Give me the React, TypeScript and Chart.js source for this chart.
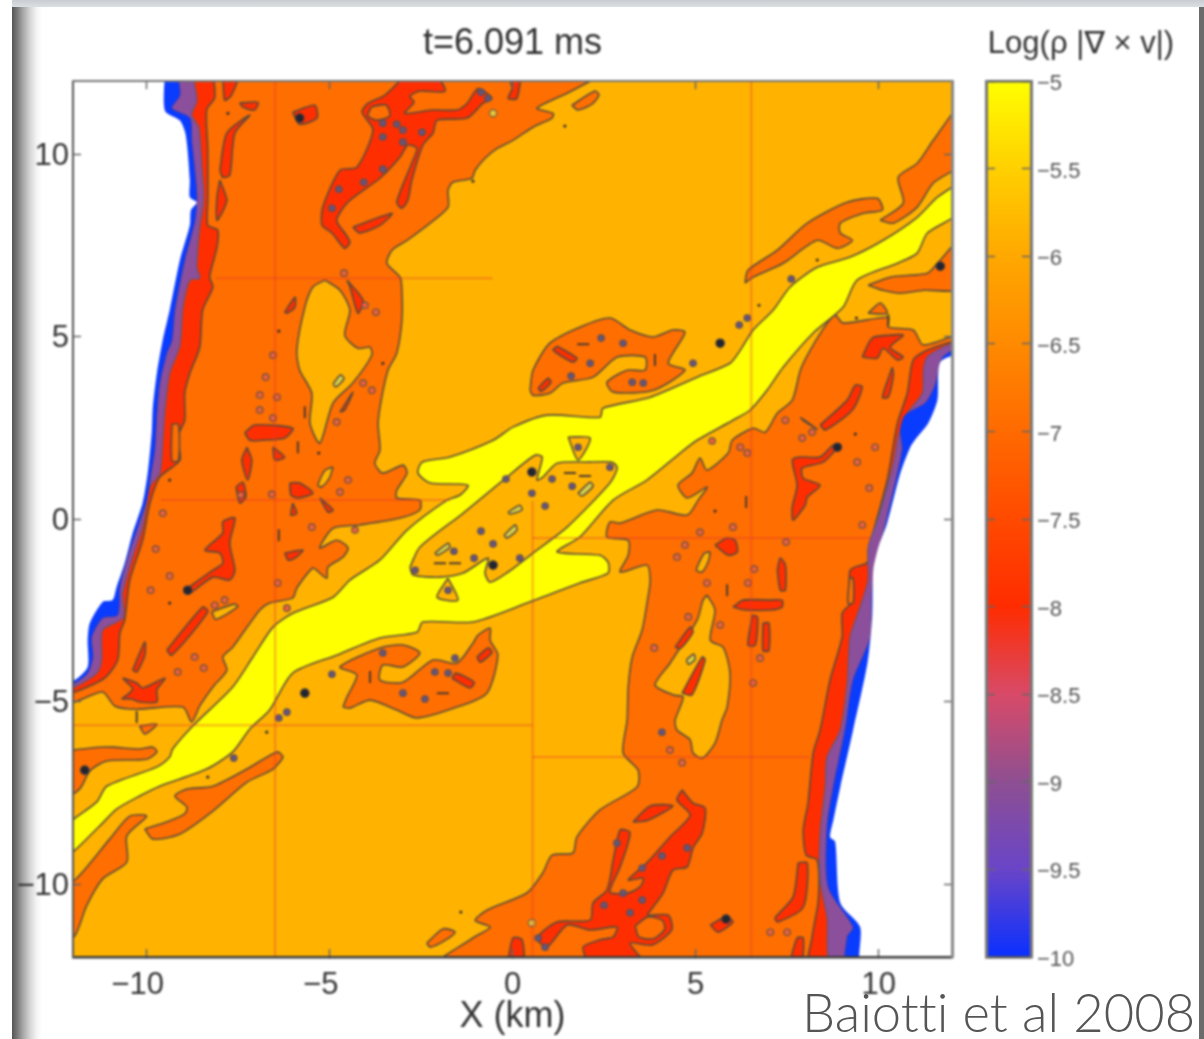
import React, { useEffect, useRef } from "react";
import { Chart, registerables } from "chart.js";

Chart.register(...registerables);

// ---------- contour regions, in km (x, y, x, y, ...) ----------
const PLOT_BOX = [-12, -12, 12, -12, 12, 12, -12, 12];

const ORANGE_BAND_LEFT = [2.12,12,1.49,11.67,0.67,11.26,1.11,11.12,1.08,10.99,0.56,10.74,0.01,10.38,-0.42,10.16,-0.75,9.89,-1.02,9.56,-1.11,9.34,-1.63,9.23,-1.76,9.01,-1.76,8.55,-2.25,8.11,-2.88,7.64,-3.29,7.37,-3.43,7.01,-3.07,6.63,-3.02,6.27,-3.02,5.45,-3.16,4.55,-3.40,4.08,-3.57,3.34,-3.67,2.63,-3.62,1.89,-3.76,1.53,-3.54,1.26,-2.99,1.48,-2.88,1.26,-3.16,0.79,-3.16,0.58,-2.53,0.52,-2.53,0.25,-3.07,0.03,-4.17,-0.16,-4.90,-0.25,-5.26,-0.79,-4.80,-0.58,-4.49,-0.79,-4.63,-1.04,-5.04,-1.32,-5.07,-1.62,-5.26,-1.48,-5.45,-1.34,-5.89,-1.89,-6.00,-2.16,-6.63,-2.30,-6.90,-2.49,-7.64,-3.51,-7.91,-3.78,-7.80,-4.14,-8.18,-4.60,-8.54,-5.12,-8.76,-5.56,-9.00,-5.15,-10.26,-5.21,-10.86,-5.12,-11.19,-4.74,-11.95,-5.01,-12.3,-5.03,-12.3,12.3,2.12,12.3];
const ORANGE_BAND_RIGHT = [12.3,5.12,11.22,4.77,10.94,5.18,10.26,5.26,10.26,5.53,9.03,5.37,8.81,5.59,8.59,5.37,8.13,4.63,7.86,4.08,7.64,3.26,7.23,2.90,6.90,2.38,6.57,2.49,6.00,2.16,5.89,1.81,5.31,1.34,5.12,1.67,4.90,1.26,4.52,0.93,4.77,0.58,5.31,0.88,5.07,0.52,4.77,0.11,3.95,0.25,2.94,-0.11,2.66,-0.08,2.58,-0.49,3.16,-0.58,3.16,-0.99,2.94,-1.45,3.67,-1.26,3.76,-1.67,3.70,-2.14,3.54,-3.04,3.27,-3.78,3.16,-4.60,3.13,-5.51,3.02,-6.41,3.43,-6.88,3.40,-7.34,2.39,-7.97,1.76,-8.71,1.65,-9.15,1.08,-9.21,0.83,-9.69,0.40,-10.24,-0.70,-10.72,-1.02,-11.00,-0.61,-11.18,-1.08,-11.48,-2.17,-12.3,12.3,-12.3];
const ORANGE_UPPER_CENTRE = [0.48,3.53,0.56,4.08,1.02,4.82,1.84,5.26,2.66,5.51,3.21,5.18,3.84,4.99,4.38,5.18,4.71,5.12,4.25,4.27,4.71,4.08,3.84,3.53,2.75,3.48,2.58,3.75,3.13,4.08,3.62,4.08,3.62,4.44,2.86,4.44,2.20,3.89,1.38,3.73,1.02,3.45,0.56,3.39];
const ORANGE_LOWER_CENTRE = [-4.63,-5.15,-4.52,-4.88,-4.25,-4.27,-4.71,-4.05,-3.62,-3.53,-2.99,-3.45,-2.53,-3.67,-2.99,-4.05,-3.54,-4.00,-3.62,-4.41,-2.99,-4.47,-2.17,-3.86,-1.52,-3.95,-1.08,-3.40,-0.94,-3.18,-0.61,-2.99,-0.61,-3.32,-0.40,-3.73,-0.70,-4.77,-1.52,-5.15,-2.61,-5.45,-3.16,-5.23,-3.89,-4.96,-4.44,-5.18];
const ORANGE_LOWER_LEFT_A = [-10.04,-8.49,-9.44,-8.30,-8.95,-8.08,-8.89,-7.89,-9.22,-7.59,-8.89,-7.40,-8.18,-7.32,-7.25,-6.85,-6.43,-6.38,-6.27,-6.52,-6.54,-6.85,-7.25,-7.21,-8.18,-8.00,-9.08,-8.63,-9.82,-8.77];
const ORANGE_LOWER_LEFT_B = [-12.3,-9.9,-11.95,-9.89,-11.0,-8.77,-10.45,-8.14,-9.99,-8.14,-10.53,-8.68,-10.53,-9.40,-11.19,-9.86,-11.63,-10.60,-11.95,-11.42,-12.3,-11.6];
const ORANGE_LOWER_LEFT_C = [-12.3,-6.36,-11.27,-6.25,-10.92,-6.25,-10.18,-6.30,-9.82,-6.25,-9.71,-6.38,-9.99,-6.58,-11.08,-6.63,-11.54,-6.90,-11.82,-7.40,-12.3,-7.65];
const ORANGE_TINY_LEFT = [-10.18,-5.67,-9.71,-5.62,-10.04,-5.89];
const ORANGE_UPPER_RIGHT_A = [6.35,6.47,6.43,6.82,7.23,7.37,8.05,8.11,9.14,8.68,9.96,8.79,10.10,8.47,9.58,8.38,8.95,8.11,8.95,7.84,9.28,7.64,8.87,7.42,8.32,7.64,7.39,7.01,6.57,6.63];
const ORANGE_UPPER_RIGHT_B = [10.04,8.19,10.67,8.66,10.53,9.37,11.05,9.75,11.49,10.38,12.3,11.4,12.3,9.8,11.49,9.21,11.05,8.55,10.40,8.11];
const ORANGE_UPPER_RIGHT_C = [9.71,6.41,10.31,6.63,11.33,6.74,11.60,7.01,12.3,7.72,12.3,6.33,11.22,6.27,10.59,6.19,10.12,6.27];
const ORANGE_TINY_RIGHT = [9.71,5.64,10.04,5.92,10.23,5.64];
const ORANGE_LENS_TOP = [1.62,11.34,2.25,11.73,2.36,11.62,2.17,11.37,1.79,11.21];
const ORANGE_LENS_BOTTOM = [-2.34,-11.62,-1.90,-11.23,-1.57,-11.32,-1.90,-11.58,-2.25,-11.73];

const LAKE_LEFT = [-5.12,6.55,-4.71,6.27,-4.44,5.73,-4.58,5.04,-4.22,4.68,-3.89,4.71,-3.84,4.49,-4.36,3.73,-4.90,3.18,-5.26,2.08,-5.53,2.63,-5.48,3.45,-5.81,4.08,-5.89,4.63,-5.67,5.81,-5.45,6.36];
const LAKE_RIGHT = [5.31,-2.08,5.53,-2.49,5.40,-3.32,5.75,-3.51,5.94,-4.22,5.86,-5.15,5.72,-5.51,5.53,-6.14,5.18,-6.55,4.93,-6.41,4.85,-6.05,4.49,-5.78,4.44,-5.51,4.66,-4.88,4.39,-4.82,3.89,-4.55,4.30,-3.95,5.04,-2.77,5.20,-2.22];
const LAKE_SMALL_A = [-4.90,1.43,-5.12,1.34,-5.31,0.93,-5.21,0.88,-5.0,1.12];
const LAKE_SMALL_B = [5.40,-0.90,5.24,-0.93,5.02,-1.40,5.18,-1.45,5.35,-1.15];
const LAKE_SMALL_C = [7.86,2.79,8.24,2.52,8.32,2.46,7.94,2.70];
const LAKE_SMALL_D = [-8.21,-2.54,-7.6,-2.33,-7.5,-2.4,-8.1,-2.75];

const RED_STRIP_LEFT = [-8.18,12.3,-8.13,11.56,-8.35,11.21,-8.32,10.11,-8.32,8.74,-8.32,8.05,-8.05,7.92,-8.07,7.45,-8.27,6.63,-8.18,6.36,-8.46,5.73,-8.54,4.71,-8.81,4.00,-8.95,3.45,-8.95,2.71,-9.14,2.25,-9.08,1.62,-9.63,1.15,-9.90,0.44,-10.10,-0.58,-10.45,-1.67,-10.59,-2.77,-10.72,-3.12,-10.78,-3.86,-11.14,-4.36,-11.95,-4.74,-12.3,-4.8,-12.3,12.3];
const RED_STRIP_RIGHT = [12.3,4.96,11.32,4.63,10.94,4.36,10.78,3.45,10.51,2.63,10.23,1.07,9.77,-0.66,9.69,-1.18,9.22,-1.40,9.22,-2.30,9.00,-2.58,9.00,-3.23,8.67,-4.41,8.40,-5.78,8.21,-6.41,8.07,-7.78,7.94,-8.52,8.02,-9.21,8.32,-9.34,8.35,-10.44,8.18,-11.45,8.13,-12.3,12.3,-12.3];
const RED_UPPER_MAIN = [-2.80,12.3,-2.20,12.3,-1.84,11.73,-2.53,11.73,-2.80,11.59,-2.69,11.42,-2.94,11.12,-2.20,11.21,-1.52,11.21,-1.24,11.39,-0.94,11.80,-0.56,11.53,-0.81,11.39,-1.24,10.99,-2.06,10.93,-2.17,10.58,-2.45,10.25,-2.75,9.29,-2.86,8.74,-3.02,8.52,-3.16,8.69,-2.75,9.75,-2.61,10.16,-2.86,10.25,-3.07,9.92,-3.62,9.34,-4.49,8.69,-4.80,8.19,-4.58,7.84,-4.44,7.59,-4.58,7.42,-4.93,7.84,-5.20,8.05,-5.18,8.55,-4.71,9.56,-4.25,9.64,-3.81,10.66,-4.11,11.15,-3.95,11.39,-3.48,11.62];
const RED_LOWER_MAIN = [4.63,-7.42,4.93,-7.78,5.26,-7.92,5.18,-8.60,4.93,-9.01,4.77,-9.53,4.38,-9.62,4.11,-10.25,3.84,-10.63,3.70,-10.85,4.25,-10.85,4.35,-11.25,3.82,-11.67,3.21,-11.62,3.67,-12.3,2.20,-12.3,1.93,-11.73,2.39,-11.53,2.75,-11.45,2.85,-11.18,2.12,-11.26,1.49,-11.12,0.94,-11.73,0.67,-11.48,1.22,-11.04,2.12,-10.99,2.20,-10.52,2.58,-10.16,2.75,-9.34,2.94,-8.52,3.21,-8.60,2.94,-9.53,2.66,-10.22,3.13,-10.25,3.48,-10.08,3.57,-9.84,3.16,-9.89,3.67,-9.42,4.30,-8.71,4.85,-8.11,4.49,-7.70];
const RED_ISLANDS = [
  [3.29,-8.30,3.76,-7.86,4.38,-7.86,3.70,-8.25],
  [7.80,-9.42,8.05,-9.42,7.94,-10.63,7.25,-11.04,7.17,-10.93,7.66,-10.36],
  [7.53,-12.3,7.77,-11.48,7.94,-11.48,7.87,-12.3],
  [-0.15,-12.3,0.01,-11.48,0.26,-11.53,0.29,-12.3],
  [8.87,1.95,8.48,1.56,7.91,1.40,7.94,1.12,8.40,0.93,8.05,0.60,7.99,0.38,7.66,-0.03,7.64,0.33,7.77,0.93,7.64,1.62,7.86,1.70,8.40,1.70,8.76,2.03],
  [8.40,2.58,9.14,3.26,9.36,3.67,9.55,3.62,9.28,2.99,8.54,2.44],
  [9.55,4.44,9.82,4.96,10.31,5.04,10.67,5.04,10.31,4.71,10.67,4.44,10.51,4.36,10.12,4.68,9.96,4.41],
  [10.37,4.16,10.10,3.34,10.26,3.34,10.40,3.95],
  [5.53,-0.71,5.86,-0.52,6.08,-0.58,6.14,-0.90,5.89,-0.99],
  [7.23,-1.40,7.31,-1.07,7.45,-1.26,7.45,-1.95,7.31,-1.95],
  [6.02,-2.41,6.30,-2.22,7.04,-2.22,7.36,-2.22,7.36,-2.41,7.04,-2.49,6.35,-2.49],
  [6.55,-2.63,6.69,-2.68,6.63,-3.45,6.43,-3.45],
  [6.84,-2.85,7.0,-2.85,7.0,-3.6,6.84,-3.6],
  [4.44,-3.51,4.85,-2.96,4.93,-3.10,4.58,-3.55],
  [4.63,-4.77,5.18,-3.78,5.26,-3.86,4.90,-4.82],
  [5.40,-11.12,5.83,-10.90,6.02,-11.04,5.61,-11.32],
  [-8.95,-1.95,-8.18,-1.40,-7.91,-1.21,-7.99,-0.93,-8.40,-0.85,-7.91,-0.38,-7.91,-0.08,-7.58,0.03,-7.72,-0.66,-7.58,-1.40,-7.72,-1.67,-8.18,-1.59,-8.81,-2.03],
  [-9.44,-3.59,-8.46,-2.41,-8.32,-2.55,-9.30,-3.73],
  [-10.37,-4.14,-10.04,-3.37,-10.04,-3.73,-10.26,-4.19],
  [-10.67,-4.93,-10.37,-4.66,-10.64,-4.36,-10.26,-4.49,-10.10,-4.63,-9.49,-4.36,-9.71,-4.68,-9.71,-5.01,-10.18,-5.01,-10.40,-4.93],
  [-7.91,12.3,-7.45,12.3,-7.67,11.62,-7.86,11.48],
  [-7.99,9.56,-7.80,10.58,-7.17,11.07,-7.58,10.58,-7.72,9.42,-7.91,9.37],
  [-7.99,9.29,-7.80,8.74,-7.94,8.38,-8.07,8.19,-8.07,8.82],
  [-7.45,11.40,-6.95,11.42,-7.04,11.21,-7.36,11.29],
  [-6.0,11.15,-5.40,11.34,-5.34,10.99,-5.81,10.82],
  [-4.36,8.00,-3.29,8.38,-3.62,8.05,-4.17,7.84],
  [-0.18,12.3,0.20,12.3,0.12,11.53,-0.12,11.53,-0.01,11.81],
  [-6.22,5.67,-5.94,6.08,-5.94,5.81,-6.16,5.64],
  [-4.52,6.55,-4.08,6.00,-4.22,5.64,-4.44,6.37],
  [-7.31,2.36,-7.04,2.58,-6.0,2.49,-6.22,2.22,-6.84,2.16,-7.17,2.16],
  [-7.25,1.97,-7.12,1.62,-7.23,1.07,-7.39,1.62],
  [-6.54,1.97,-6.22,1.70,-6.49,1.62],
  [-6.08,0.99,-5.81,0.99,-5.45,0.71,-5.86,0.58,-6.05,0.66],
  [-7.55,0.88,-7.36,1.01,-7.28,0.60,-7.45,0.44],
  [-5.26,0.58,-4.90,0.25,-5.04,0.19],
  [-6.0,0.44,-5.89,0.16,-6.05,0.11],
  [-6.22,-0.93,-5.72,-0.85,-5.94,-1.07,-6.13,-1.12],
  [-4.71,2.93,-4.36,3.48,-4.58,2.99],
  [-0.75,0.25,-0.34,0.52,-0.34,0.33,-0.67,0.11],
  [1.22,4.74,1.76,4.41,1.65,4.30,1.11,4.63],
  [0.70,3.59,0.97,3.86,1.05,3.75,0.78,3.50],
  [-0.97,-3.78,-0.67,-3.53,-0.56,-3.65,-0.88,-3.92],
  [-1.65,-4.36,-1.16,-4.63,-1.05,-4.47,-1.55,-4.22],
];
const HOLES_IN_RED = [
  [-3.85,11.3,-3.45,11.35,-3.35,11.05,-3.7,10.93,-3.95,11.05],
  [3.35,-11.15,3.7,-10.9,4.1,-11.0,4.15,-11.25,3.85,-11.5,3.45,-11.45],
  [9.2,-1.62,9.3,-1.62,9.3,-2.3,9.16,-2.3],
  [-9.3,2.6,-9.12,2.6,-9.12,1.6,-9.3,1.6],
];

const PURPLE_LEFT = [-8.76,12.3,-8.62,11.48,-8.76,11.07,-8.57,10.74,-8.48,9.64,-8.43,8.74,-8.54,8.00,-8.62,6.90,-8.54,6.60,-8.81,6.55,-9.00,5.81,-9.08,4.77,-9.36,4.00,-9.49,2.99,-9.55,2.16,-9.63,1.26,-9.90,0.88,-10.10,-0.22,-10.37,-1.04,-10.64,-2.03,-10.64,-2.71,-11.19,-3.04,-11.22,-3.86,-11.35,-4.22,-11.95,-4.60,-12.3,-4.65,-12.3,12.3];
const PURPLE_RIGHT = [12.3,4.90,11.76,4.71,11.32,4.44,11.22,4.08,11.19,3.45,10.78,2.90,10.53,2.25,10.40,1.53,9.99,0.05,9.71,-0.77,9.71,-1.67,9.49,-2.41,9.22,-3.23,9.14,-4.49,8.95,-5.78,8.59,-6.52,8.54,-7.34,8.40,-8.60,8.40,-9.89,8.59,-10.90,8.76,-12.3,12.3,-12.3];
const BLUE_LEFT = [-9.17,12.3,-9.08,11.62,-9.30,11.26,-8.81,10.99,-8.76,10.38,-8.62,8.88,-8.67,8.19,-8.95,7.10,-9.22,5.73,-9.30,4.90,-9.44,4.55,-9.63,3.73,-9.71,2.90,-9.77,1.89,-9.90,1.07,-9.99,0.52,-10.26,-0.30,-10.51,-1.04,-10.72,-1.86,-10.78,-2.63,-11.19,-2.71,-11.49,-3.23,-11.46,-3.78,-11.60,-4.22,-11.95,-4.49,-12.3,-4.55,-12.3,12.3];
const BLUE_RIGHT = [12.3,4.8,11.73,4.41,11.54,3.67,11.27,3.18,10.72,2.85,10.59,2.44,10.64,1.89,10.23,0.05,9.96,-1.04,9.82,-1.95,9.77,-3.23,9.30,-4.41,9.08,-5.78,8.76,-7.34,8.59,-8.44,8.62,-10.08,9.30,-11.18,9.14,-11.45,9.16,-12.3,12.3,-12.3];
const WHITE_LEFT = [-9.49,12.3,-9.49,11.19,-9.08,10.92,-8.92,10.52,-8.81,9.29,-8.81,8.82,-8.62,8.68,-8.78,8.47,-8.81,8.05,-9.08,7.10,-9.36,5.73,-9.55,4.90,-9.71,4.00,-9.82,3.07,-9.85,2.36,-9.96,1.26,-10.10,0.44,-10.37,-0.38,-10.59,-1.21,-10.81,-1.86,-10.92,-2.22,-11.19,-2.27,-11.54,-2.85,-11.60,-3.32,-11.60,-4.05,-11.95,-4.41,-12.3,-4.45,-12.3,12.3];
const WHITE_RIGHT = [12.3,4.58,11.68,4.30,11.60,3.26,11.35,2.63,11.05,2.25,10.86,1.97,10.59,1.26,10.23,-0.11,9.99,-0.77,9.85,-1.40,9.82,-2.68,9.69,-3.95,9.30,-5.78,8.95,-7.34,8.76,-8.25,8.67,-8.71,8.81,-8.84,8.95,-10.52,9.49,-11.18,9.55,-12.3,12.3,-12.3];

const YELLOW_BAND = [12.3,9.29,11.60,8.82,11.05,8.27,10.12,7.64,9.22,7.18,8.32,6.90,7.58,6.36,7.12,5.73,6.57,5.18,6.22,4.63,5.94,4.27,5.04,3.89,3.76,3.34,2.47,3.04,2.39,2.79,0.94,2.85,0.01,2.52,-0.53,2.16,-1.71,1.70,-2.47,1.56,-2.58,1.26,-2.25,0.99,-1.22,0.93,-1.43,0.66,-1.79,0.52,-2.88,-0.30,-3.62,-1.12,-4.44,-1.67,-4.90,-2.14,-6.00,-2.58,-6.54,-2.96,-7.09,-3.78,-7.64,-4.60,-8.73,-5.67,-9.28,-6.30,-9.36,-6.52,-9.71,-6.79,-11.08,-7.32,-11.35,-7.75,-12.3,-8.52,-12.3,-9.34,-11.27,-8.41,-10.81,-7.95,-10.18,-7.59,-9.63,-7.32,-8.35,-6.85,-7.64,-6.38,-7.17,-5.75,-6.63,-5.23,-6.00,-4.22,-4.80,-3.73,-3.62,-3.26,-2.61,-3.10,-2.45,-2.82,-1.08,-2.82,0.40,-2.30,1.84,-1.75,2.61,-1.48,2.61,-1.18,2.39,-0.99,1.22,-0.90,1.84,-0.49,2.75,0.52,3.67,1.07,4.58,1.81,5.04,2.16,6.02,2.71,6.49,2.99,6.95,3.53,7.39,4.16,8.21,5.10,9.03,5.81,9.41,6.55,10.51,7.01,11.05,7.29,11.33,7.84,12.3,8.47];
const CORE_LENS = [-2.80,-1.32,-2.53,-0.77,-1.35,0.16,-0.15,1.15,0.61,1.75,0.81,1.70,0.67,1.07,0.83,1.15,1.22,1.53,2.04,1.56,2.72,1.56,2.86,1.40,2.66,0.99,1.49,-0.22,0.56,-0.93,-0.12,-1.45,-0.61,-1.73,-0.75,-1.48,-0.67,-1.07,-1.35,-1.48,-1.98,-1.59,-2.72,-1.53];
const CORE_TRIANGLE_UP = [1.52,2.25,2.12,2.22,1.79,1.62];
const CORE_TRIANGLE_DOWN = [-1.76,-1.62,-1.49,-2.22,-2.06,-2.14];
const GREEN_LENSES = [
  [-2.12,-0.93,-1.76,-0.66,-1.71,-0.77,-2.04,-0.99],
  [1.79,0.71,2.12,1.01,2.20,0.90,1.90,0.63],
  [-0.12,0.19,0.20,0.38,0.26,0.25,-0.07,0.14],
  [-0.23,-0.44,0.07,-0.16,0.12,-0.30,-0.15,-0.52],
  [-4.9,3.7,-4.7,3.95,-4.6,3.85,-4.82,3.62],
  [4.75,-3.85,4.95,-3.7,4.98,-3.85,4.8,-3.98],
];

// ---------- small features, km ----------
const DOTS_DARK = [-8.87,-1.95,-5.81,10.99,11.68,6.93,8.87,1.97,5.83,-10.96,-11.68,-6.88,0.53,1.29,-0.53,-1.26,5.67,4.82,-5.67,-4.77];
const DOTS_MAUVE = [-3.54,10.85,-3.16,10.82,-2.99,10.66,-3.54,10.47,-2.99,10.33,-3.54,9.59,-4.06,9.23,-4.74,9.04,-4.93,8.52,-2.47,10.60,-0.86,11.70,-0.67,11.53,2.85,-8.88,4.77,-9.01,4.08,-9.23,3.54,-9.56,3.02,-10.25,3.54,-10.44,2.50,-10.58,3.21,-10.79,0.70,-11.48,0.89,-11.73,0.53,0.71,0.89,0.36,-0.53,-0.68,-0.86,-0.33,-1.60,-0.88,-1.05,-1.07,1.08,1.10,1.63,0.90,-0.18,1.10,-2.66,-1.40,0.20,-1.07,2.66,1.42,1.79,1.97,-1.76,-1.95,6.19,5.32,6.41,5.51,4.93,4.27,-6.38,-5.45,-6.16,-5.29,-4.93,-4.25,-7.61,-6.55,7.61,6.58,4.08,-5.84,2.42,4.96,3.02,4.82,2.12,4.27,1.60,3.92,3.57,3.73,3.27,3.75,-3.54,-3.67,-2.12,-4.19,-2.99,-4.77,-2.39,-4.93,-1.76,-4.22,-1.57,-3.81];
const DOTS_ORANGE = [-9.55,0.16,-9.74,-0.82,-9.36,-1.56,-9.88,-1.95,-7.42,0.66,-6.57,0.68,-5.48,-0.22,-4.71,0.74,-4.49,1.07,-6.74,3.89,-6.90,3.40,-6.90,2.99,-6.43,3.34,-6.54,2.77,-6.54,4.49,-4.80,2.66,-4.08,3.73,-3.84,3.53,-4.30,-0.30,-6.16,-2.44,-6.41,-1.75,-8.68,-3.78,-9.14,-4.19,-8.43,-4.08,-8.13,-2.36,-7.86,-2.22,-4.60,6.74,-3.73,5.67,-4.03,5.86,9.90,1.97,9.74,0.85,9.41,1.56,9.55,-0.16,7.47,-0.63,6.02,-0.22,5.12,-0.36,4.71,-0.71,4.49,-1.04,6.22,1.97,6.41,1.81,7.45,2.71,8.18,2.38,7.91,2.22,5.45,2.14,4.80,-2.68,5.67,-2.90,6.57,-4.49,6.76,-3.81,6.43,-1.75,5.31,-1.75,6.60,-1.37,3.87,-3.53,4.63,-6.68,4.30,-6.33,7.04,-11.32,7.5,-11.32];
const DOTS_TINY = [1.43,10.77,-1.08,9.26,-1.41,-10.77,-7.77,11.12,-6.38,5.15,-3.54,4.27,-5.29,1.81,5.53,0.22,9.36,2.33,-9.36,1.07,-9.36,-2.30,-8.32,-7.07,8.32,7.10,6.73,5.86,9.39,5.51,-6.71,-5.84];
const DOTS_PALE = [-0.53,11.12,0.53,-11.07];
const DASHES_LEVEL = [1.93,4.79,1.57,1.26,1.98,1.18,-1.98,-1.21,-1.57,-1.21,-1.90,-4.77];
const DASHES_UPRIGHT = [3.89,4.36,-3.89,-4.33,-5.86,1.97,-5.67,2.93,5.86,-1.95,6.38,0.47,-6.38,-0.44,-10.26,-5.42,10.26,5.45];

// faint mesh-refinement seams: [x1, y1, x2, y2]
const SEAMS = [
  [-6.48,12,-6.48,-12],
  [6.52,12,6.52,-12],
  [0.55,0.5,0.55,-12],
  [-8.1,6.6,-0.55,6.6],
  [-12,-5.65,0.55,-5.65],
  [-9.6,0.52,-1.7,0.52],
  [0.55,-0.52,9.8,-0.52],
  [0.55,-6.52,8.1,-6.52],
];

// ---------- axes and colour scale ----------
const AXIS_TICKS = [-10, -5, 0, 5, 10];
const SCALE_TICKS = [-5, -5.5, -6, -6.5, -7, -7.5, -8, -8.5, -9, -9.5, -10];
const SCALE_RANGE: [number, number] = [-10, -5];
const SCALE_LEVELS = [-5, -5.5, -6, -6.5, -7, -7.5, -8, -8.5, -9, -9.5, -10];
const SCALE_COLORS = ["#ffff00","#ffd000","#ffa800","#ff8a00","#ff6a00","#ff4a00","#ff2c00","#d84a68","#8e4f92","#6a45c8","#0a30ff"];

const AMBER = "#ffb300";
const ORANGE = "#ff6e00";
const RED = "#ff2e00";
const PURPLE = "#8c4f9c";
const BLUE = "#0a3cff";
const YELLOW = "#ffff00";
const CONTOUR = "#574a3c";
const SANS = '"Liberation Sans", "DejaVu Sans", sans-serif';

const pts = (f: number[]) => {
  const o: { x: number; y: number }[] = [];
  for (let i = 0; i < f.length; i += 2) o.push({ x: f[i], y: f[i + 1] });
  return o;
};

const area = (f: number[], color: string, stroke: string | null = CONTOUR, w = 1.6, tension = 0.25) => ({
  data: [...pts(f), { x: f[0], y: f[1] }],
  fill: "shape",
  backgroundColor: color,
  borderColor: stroke || "rgba(0,0,0,0)",
  borderWidth: stroke ? w : 0,
  borderJoinStyle: "round",
  pointRadius: 0,
  tension,
});

const dots = (f: number[], fill: string, edge: string, r: number) => ({
  data: pts(f),
  showLine: false,
  fill: false,
  pointRadius: r,
  pointBackgroundColor: fill,
  pointBorderColor: edge,
  pointBorderWidth: 1.2,
});

const dashes = (f: number[], rotation: number) => ({
  data: pts(f),
  showLine: false,
  fill: false,
  pointStyle: "line",
  pointRadius: 6,
  pointRotation: rotation,
  pointBorderColor: "#4a3a30",
  pointBorderWidth: 2,
});

const seam = (s: number[]) => ({
  data: pts(s),
  fill: false,
  borderColor: "rgba(225,55,50,0.38)",
  borderWidth: 2,
  pointRadius: 0,
});

const tickText = (v: number, pad = "") =>
  (v < 0 ? "\u2212" + Math.abs(v) + pad : String(v));

export default function App() {
  const mainRef = useRef<HTMLCanvasElement>(null);
  const barRef = useRef<HTMLCanvasElement>(null);

  useEffect(() => {
    document.body.style.margin = "0";
    const layers: any[] = [
      area(PLOT_BOX, AMBER, null, 0, 0),
      ...[ORANGE_BAND_LEFT, ORANGE_BAND_RIGHT, ORANGE_UPPER_CENTRE, ORANGE_LOWER_CENTRE, ORANGE_LOWER_LEFT_A, ORANGE_LOWER_LEFT_B, ORANGE_LOWER_LEFT_C, ORANGE_TINY_LEFT, ORANGE_UPPER_RIGHT_A, ORANGE_UPPER_RIGHT_B, ORANGE_UPPER_RIGHT_C, ORANGE_TINY_RIGHT, ORANGE_LENS_TOP, ORANGE_LENS_BOTTOM].map((p) => area(p, ORANGE)),
      ...[LAKE_LEFT, LAKE_RIGHT, LAKE_SMALL_A, LAKE_SMALL_B, LAKE_SMALL_C, LAKE_SMALL_D].map((p) => area(p, AMBER)),
      ...[RED_STRIP_LEFT, RED_STRIP_RIGHT, RED_UPPER_MAIN, RED_LOWER_MAIN, ...RED_ISLANDS].map((p) => area(p, RED)),
      ...HOLES_IN_RED.map((p) => area(p, ORANGE)),
      area(YELLOW_BAND, YELLOW),
      area(CORE_LENS, AMBER),
      area(CORE_TRIANGLE_UP, AMBER),
      area(CORE_TRIANGLE_DOWN, AMBER),
      ...GREEN_LENSES.map((p) => area(p, "#d8d24a")),
      dots(DOTS_ORANGE, "#f0623a", "#5f4f4a", 3.2),
      dots(DOTS_MAUVE, "#6a5478", "#5a5058", 3.2),
      dots(DOTS_DARK, "#23242e", "#3a3a44", 4.2),
      dots(DOTS_TINY, "#3a3030", "#3a3030", 1),
      dots(DOTS_PALE, "#e8c838", "#6c5c48", 3.6),
      dashes(DASHES_LEVEL, 0),
      dashes(DASHES_UPRIGHT, 90),
      ...SEAMS.map(seam),
      area(PURPLE_LEFT, PURPLE, "#5f5a7a", 1.2),
      area(PURPLE_RIGHT, PURPLE, "#5f5a7a", 1.2),
      area(BLUE_LEFT, BLUE, "#2a3cb0", 0.8),
      area(BLUE_RIGHT, BLUE, "#2a3cb0", 0.8),
      area(WHITE_LEFT, "#ffffff", null),
      area(WHITE_RIGHT, "#ffffff", null),
    ];
    layers.forEach((d, i) => (d.order = -i));

    const setTicks = (axis: any) => {
      axis.ticks = AXIS_TICKS.map((value) => ({ value }));
    };
    const baseAxis = (extra: any, tickLen: number, edge: string, edgeW: number) => ({
      type: "linear",
      min: -12,
      max: 12,
      afterBuildTicks: setTicks,
      grid: { display: true, drawOnChartArea: false, drawTicks: true, tickLength: tickLen, tickColor: "#666", tickWidth: 1.5, z: 3 },
      border: { display: true, color: edge, width: edgeW, z: 3 },
      ...extra,
    });

    const main = new Chart(mainRef.current!, {
      type: "line",
      data: { datasets: layers },
      options: {
        animation: false,
        responsive: false,
        devicePixelRatio: 1,
        events: [],
        layout: { padding: { left: 0, right: 252, top: 0, bottom: 0 } },
        plugins: {
          legend: { display: false },
          tooltip: { enabled: false },
          title: {
            display: true,
            text: "t=6.091 ms",
            fullSize: false,
            color: "#333",
            font: { family: SANS, size: 36, weight: "normal" },
            padding: { top: 22, bottom: 16 },
          },
        },
        scales: {
          x: baseAxis({
            position: "bottom",
            afterFit: (s: any) => { s.height = 82; },
            ticks: { color: "#333", font: { family: SANS, size: 31 }, padding: 18, maxRotation: 0, autoSkip: false, callback: (v: number) => tickText(v, "  ") },
            title: { display: true, text: "X (km)", color: "#333", font: { family: SANS, size: 36 }, padding: { top: 0, bottom: 0 } },
          }, -8, "#3a3a3a", 2.5),
          y: baseAxis({
            position: "left",
            afterFit: (s: any) => { s.width = 73; },
            ticks: { color: "#333", font: { family: SANS, size: 31 }, padding: 12, labelOffset: 2, autoSkip: false, callback: (v: number) => tickText(v) },
          }, -8, "#555", 2),
          x2: baseAxis({
            position: "top",
            display: true,
            afterFit: (s: any) => { s.height = 0; },
            ticks: { display: false },
          }, -8, "#777", 2),
          y2: baseAxis({
            position: "right",
            display: true,
            afterFit: (s: any) => { s.width = 0; },
            ticks: { display: false },
          }, -8, "#888", 3),
        },
      } as any,
    });

    const setScaleTicks = (axis: any) => {
      axis.ticks = SCALE_TICKS.map((value) => ({ value }));
    };
    const bar = new Chart(barRef.current!, {
      type: "bar",
      data: {
        labels: ["Log"],
        datasets: [{
          data: [SCALE_RANGE],
          barPercentage: 1,
          categoryPercentage: 1,
          borderWidth: 0,
          backgroundColor: (c: any) => {
            const { ctx, chartArea } = c.chart;
            if (!chartArea) return SCALE_COLORS[0];
            const g = ctx.createLinearGradient(0, chartArea.top, 0, chartArea.bottom);
            SCALE_LEVELS.forEach((lv, i) => g.addColorStop((SCALE_RANGE[1] - lv) / (SCALE_RANGE[1] - SCALE_RANGE[0]), SCALE_COLORS[i]));
            return g;
          },
        }],
      },
      options: {
        animation: false,
        responsive: false,
        devicePixelRatio: 1,
        events: [],
        layout: { padding: { left: 26, right: 0, top: 0, bottom: 82 } },
        plugins: {
          legend: { display: false },
          tooltip: { enabled: false },
          title: {
            display: true,
            text: "Log(\u03c1 |\u2207 \u00d7 v|)",
            align: "center",
            fullSize: true,
            color: "#333",
            font: { family: SANS, size: 31, weight: "normal" },
            padding: { top: 26, bottom: 18 },
          },
        },
        scales: {
          x: {
            type: "category",
            display: true,
            afterFit: (s: any) => { s.height = 0; },
            ticks: { display: false },
            grid: { display: false, drawTicks: false },
            border: { display: true, color: "#555", width: 2.5, z: 3 },
          },
          xTop: {
            type: "category",
            position: "top",
            display: true,
            labels: ["Log"],
            afterFit: (s: any) => { s.height = 0; },
            ticks: { display: false },
            grid: { display: false, drawTicks: false },
            border: { display: true, color: "#666", width: 2.5, z: 3 },
          },
          y: {
            type: "linear",
            position: "right",
            min: SCALE_RANGE[0],
            max: SCALE_RANGE[1],
            afterBuildTicks: setScaleTicks,
            afterFit: (s: any) => { s.width = 145; },
            ticks: { color: "#555", font: { family: SANS, size: 22 }, padding: 15, labelOffset: 3, autoSkip: false, callback: (v: number) => tickText(v) },
            grid: { display: true, drawOnChartArea: false, drawTicks: true, tickLength: -9, tickColor: "#666", tickWidth: 1.5, z: 3 },
            border: { display: true, color: "#777", width: 3, z: 3 },
          },
          yLeft: {
            type: "linear",
            position: "left",
            display: true,
            min: SCALE_RANGE[0],
            max: SCALE_RANGE[1],
            afterBuildTicks: setScaleTicks,
            afterFit: (s: any) => { s.width = 0; },
            ticks: { display: false },
            grid: { display: true, drawOnChartArea: false, drawTicks: true, tickLength: -9, tickColor: "#666", tickWidth: 1.5, z: 3 },
            border: { display: true, color: "#777", width: 3, z: 3 },
          },
        },
      } as any,
    });

    return () => {
      main.destroy();
      bar.destroy();
    };
  }, []);

  const fixed: React.CSSProperties = { position: "absolute", top: 0 };
  const soft = "blur(0.8px)";
  return (
    <div style={{ position: "relative", width: 1204, height: 1039, overflow: "hidden", background: "#fff" }}>
      <div style={{ ...fixed, left: 12, width: 30, height: 1039, background: "linear-gradient(to right,#555 0%,#7a7a7a 18%,#aaa 38%,#d8d8d8 62%,#f4f4f4 82%,#fff 100%)" }} />
      <div style={{ ...fixed, left: 12, right: 0, height: 7, background: "linear-gradient(to bottom,#c9cdd1,#dcdfe2)" }} />
      <div style={{ ...fixed, left: 1199, top: 7, width: 5, height: 1032, background: "#6b6b6b" }} />
      <canvas ref={mainRef} width={1204} height={1039} style={{ ...fixed, left: 0, filter: soft }} />
      <canvas ref={barRef} width={216} height={1039} style={{ ...fixed, left: 960, filter: soft }} />
      <div style={{ position: "absolute", left: 802, top: 980, fontFamily: 'Lato, "Open Sans", sans-serif', fontWeight: 300, fontSize: 52.5, lineHeight: "64px", fontVariantLigatures: "none", color: "#555", whiteSpace: "nowrap" }}>
        Baiotti et al 2008
      </div>
    </div>
  );
}
